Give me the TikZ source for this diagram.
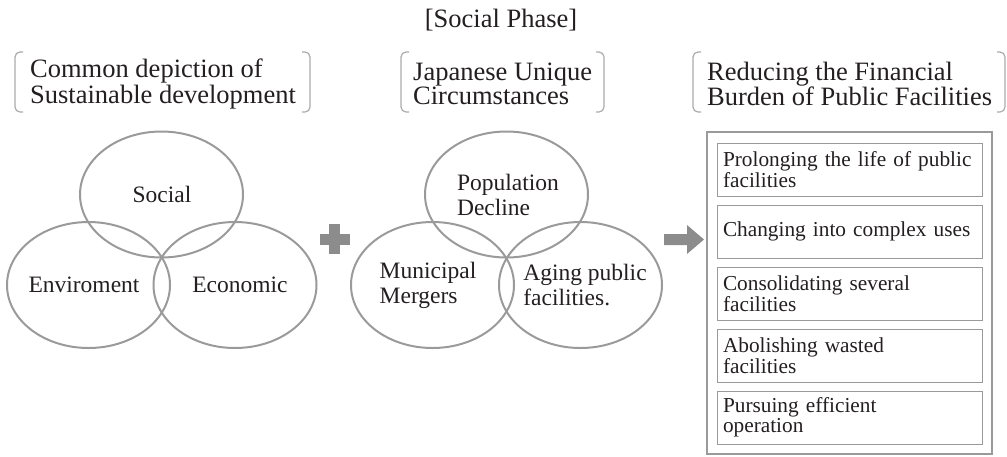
\documentclass[tikz,border=0pt]{standalone}
\usepackage{fontspec}
\setmainfont{Liberation Serif}
\usetikzlibrary{shapes.geometric}
\definecolor{linegray}{HTML}{9A9A9A}
\definecolor{signgray}{HTML}{8C8C8C}
\definecolor{brkgray}{HTML}{ABABAB}
\definecolor{txt}{HTML}{231F20}

\begin{document}
\begin{tikzpicture}[x=1pt,y=-1pt,
    venn/.style={draw=linegray, line width=2pt, ellipse, minimum width=163pt, minimum height=126pt, inner sep=0pt},
    vlabel/.style={inner sep=0pt, align=left, font=\fontsize{23.5}{25}\selectfont, text=txt},
    hdr/.style={anchor=west, inner sep=0pt, align=left, font=\fontsize{26.5}{24}\selectfont, text=txt},
    brk/.style={draw=brkgray, line width=1.2pt, rounded corners=5pt},
    measure/.style={draw=linegray, line width=1pt, minimum width=265pt, minimum height=53pt, text width=253pt, inner sep=6pt, align=left, font=\fontsize{21.3}{20.5}\selectfont, text=txt},
    sign/.style={fill=signgray, draw=none}]
      \useasboundingbox (0,0) rectangle (1007,456);
      \def\brktop{52}
      \def\brkbot{112}
      \def\tick{8}
      \def\venntop{194.5}
      \def\vennbot{285}
      \def\boxx{849.5}
      % -------------------------------------------- title
      \node[hdr, anchor=center] (title) at (501,20) {[Social Phase]};
      % -------------------------------------------- headings
      \node[hdr] (hdr_sd) at (30,84) {Common depiction of\\Sustainable development};
      \node[hdr] (hdr_jp) at (413,84) {Japanese Unique\\Circumstances};
      \node[hdr] (hdr_fin) at (707,84) {Reducing the Financial\\Burden of Public Facilities};
      % brackets
      \draw[brk] (15+\tick,\brktop) -- (15,\brktop) -- (15,\brkbot) -- (15+\tick,\brkbot);
      \draw[brk] (310-\tick,\brktop) -- (310,\brktop) -- (310,\brkbot) -- (310-\tick,\brkbot);
      \draw[brk] (401+\tick,\brktop) -- (401,\brktop) -- (401,\brkbot) -- (401+\tick,\brkbot);
      \draw[brk] (604-\tick,\brktop) -- (604,\brktop) -- (604,\brkbot) -- (604-\tick,\brkbot);
      \draw[brk] (693+\tick,\brktop) -- (693,\brktop) -- (693,\brkbot) -- (693+\tick,\brkbot);
      \draw[brk] (1005-\tick,\brktop) -- (1005,\brktop) -- (1005,\brkbot) -- (1005-\tick,\brkbot);
      % -------------------------------------------- sustainable development
      \node[venn] (soc) at (161.5,\venntop) {};
      \node[venn] (env) at (88.5,\vennbot) {};
      \node[venn] (eco) at (235,\vennbot) {};
      \node[vlabel] (soc_txt) at (162,\venntop) {Social};
      \node[vlabel] (env_txt) at (84,\vennbot) {Enviroment};
      \node[vlabel] (eco_txt) at (240,\vennbot) {Economic};
      % -------------------------------------------- plus
      \fill[sign] (320,234) rectangle (350,245);
      \fill[sign] (329,224) rectangle (340,254);
      % -------------------------------------------- japanese circumstances
      \node[venn] (popdec) at (506.5,\venntop) {};
      \node[venn] (merger) at (432.5,\vennbot) {};
      \node[venn] (aging) at (580.5,\vennbot) {};
      \node[vlabel] (popdec_txt) at (508,\venntop) {Population\\Decline};
      \node[vlabel] (merger_txt) at (428,\vennbot) {Municipal\\Mergers};
      \node[vlabel] (aging_txt) at (585,\vennbot) {Aging public\\facilities.};
      % -------------------------------------------- arrow
      \fill[sign] (664,234) -- (687,234) -- (687,225) -- (704,239.5) -- (687,254) -- (687,245) -- (664,245) -- cycle;
      % -------------------------------------------- measures
      \node[draw=linegray, line width=2.5pt, minimum width=285pt, minimum height=322pt, inner sep=0pt] (panel) at (\boxx,293) {};
      \node[measure] (m_life) at (\boxx,169.5) {Prolonging the life of public facilities};
      \node[measure] (m_use) at (\boxx,231.5) {Changing into complex uses};
      \node[measure] (m_cons) at (\boxx,293.5) {Consolidating several\\facilities};
      \node[measure] (m_abol) at (\boxx,355.5) {Abolishing wasted\\facilities};
      \node[measure] (m_op) at (\boxx,417.5) {Pursuing efficient\\operation};
\end{tikzpicture}
\end{document}
